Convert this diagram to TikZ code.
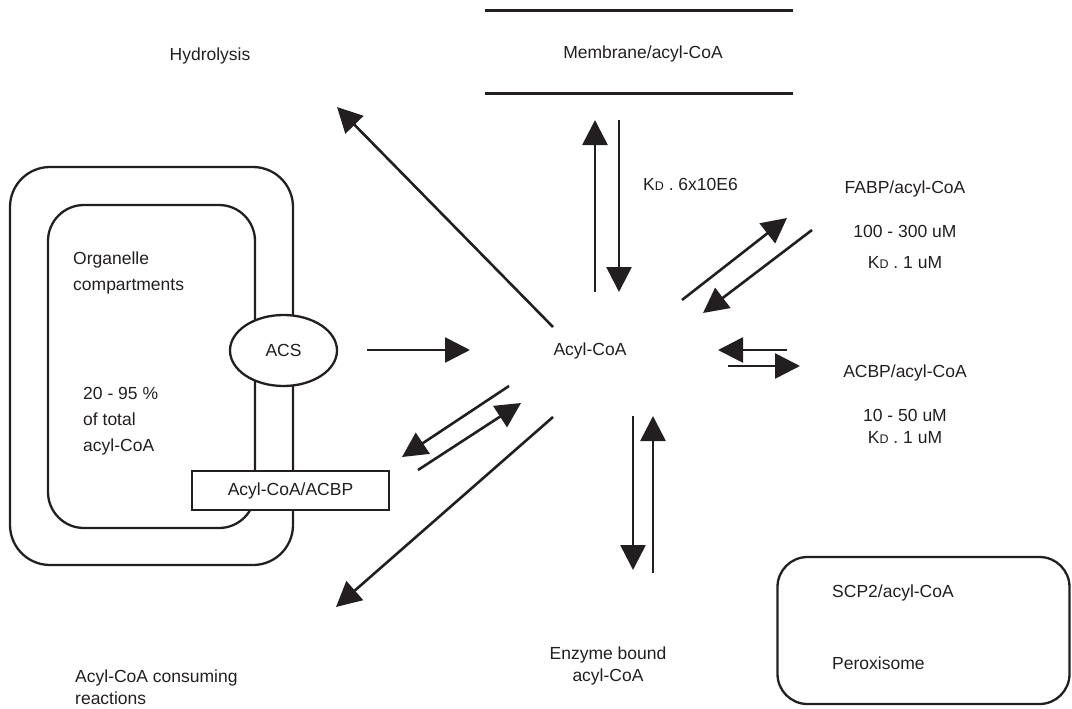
\documentclass[tikz,border=0pt]{standalone}
\usepackage{fontspec}
\setmainfont{Liberation Sans}
\usetikzlibrary{arrows.meta,shapes.geometric}
\definecolor{ink}{HTML}{231F20}
\newcommand{\KDsym}{K{\fontsize{12.5}{13}\selectfont D}}
\begin{document}
\begin{tikzpicture}[x=1pt,y=-1pt,
  every node/.style={text=ink,font=\fontsize{17.5}{26}\selectfont,inner sep=0pt},
  conn/.style={draw=ink,line width=2.6pt,-{Triangle[length=25pt,width=25pt]}},
  plain/.style={draw=ink,line width=2.6pt},
  boxline/.style={draw=ink,line width=2.3pt}]
\useasboundingbox (0,0) rectangle (1072,709);
% membrane
\coordinate (m1) at (485,11); \coordinate (m2) at (793,11);
\coordinate (m3) at (485,94); \coordinate (m4) at (793,94);
\draw[plain,line width=3pt] (m1) -- (m2);
\draw[plain,line width=3pt] (m3) -- (m4);
\node (memb) at (643,54) {Membrane/acyl-CoA};
\node (hyd) at (210,56) {Hydrolysis};
\node (acyl) at (590,351) {Acyl-CoA};
\node (kd1) [anchor=west] at (643,184) {\KDsym\ . 6x10E6};
\node (fabp) at (905,189) {FABP/acyl-CoA};
\node (fabpc) at (905,231) {100 - 300 uM};
\node (fabpk) at (905,263) {\KDsym\ . 1 uM};
\node (acbp) at (905,373) {ACBP/acyl-CoA};
\node (acbpc) at (905,415) {10 - 50 uM};
\node (acbpk) at (905,438) {\KDsym\ . 1 uM};
\node (enz) [align=center,font=\fontsize{17.5}{22}\selectfont] at (608,666) {Enzyme bound\\acyl-CoA};
\node (cons) [anchor=west,align=left,font=\fontsize{17.5}{22}\selectfont] at (75,687) {Acyl-CoA consuming\\reactions};
% organelle
\draw[boxline,rounded corners=40pt] (10,167) rectangle (293,565);
\draw[boxline,rounded corners=36pt] (48,205) rectangle (255,528);
\node (org) [anchor=west,align=left] at (73,273) {Organelle\\compartments};
\node (pct) [anchor=west,align=left] at (83,421) {20 - 95 \%\\of total\\acyl-CoA};
\node (acs) [ellipse,draw=ink,line width=2.3pt,fill=white,minimum width=107pt,minimum height=71pt] at (283.5,350.5) {ACS};
\node (acb) [rectangle,draw=ink,line width=2.3pt,fill=white,minimum width=197pt,minimum height=39pt] at (290.5,490.5) {Acyl-CoA/ACBP};
% peroxisome
\node (perox) [draw=ink,line width=2.3pt,rounded corners=30pt,minimum width=292pt,minimum height=147pt] at (923.5,630.5) {};
\node (scp) [anchor=west] at (832,593) {SCP2/acyl-CoA};
\node (perx) [anchor=west] at (832,663) {Peroxisome};
% arrow coordinates
\coordinate (h0) at (553,327); \coordinate (h1) at (337,107);
\coordinate (u0) at (595,292); \coordinate (u1) at (595,120);
\coordinate (d0) at (619,120); \coordinate (d1) at (619,292);
\coordinate (f0) at (682,300); \coordinate (f1) at (787,218);
\coordinate (g0) at (812,230); \coordinate (g1) at (703,313);
\coordinate (l0) at (787,350); \coordinate (l1) at (718,350);
\coordinate (r0) at (728,366); \coordinate (r1) at (800,366);
\coordinate (a0) at (367,350); \coordinate (a1) at (470,350);
\coordinate (p0) at (509,386); \coordinate (p1) at (402,457);
\coordinate (q0) at (418,470); \coordinate (q1) at (521,403);
\coordinate (e0) at (633,416); \coordinate (e1) at (633,570);
\coordinate (k0) at (653,573); \coordinate (k1) at (653,416);
\coordinate (c0) at (553,417); \coordinate (c1) at (336,607);
\draw[conn] (h0) -- (h1);
\draw[conn] (u0) -- (u1);
\draw[conn] (d0) -- (d1);
\draw[conn] (f0) -- (f1);
\draw[conn] (g0) -- (g1);
\draw[conn] (l0) -- (l1);
\draw[conn] (r0) -- (r1);
\draw[conn] (a0) -- (a1);
\draw[conn] (p0) -- (p1);
\draw[conn] (q0) -- (q1);
\draw[conn] (e0) -- (e1);
\draw[conn] (k0) -- (k1);
\draw[conn] (c0) -- (c1);
\end{tikzpicture}
\end{document}
